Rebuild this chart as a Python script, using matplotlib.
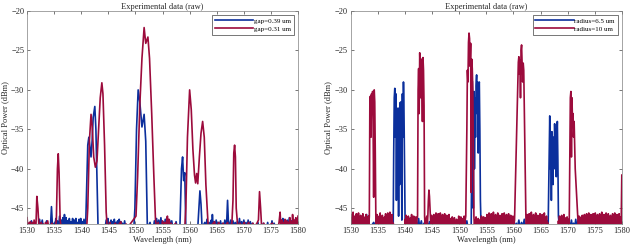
import matplotlib
matplotlib.use("Agg")
import matplotlib.pyplot as plt

# ---- left panel: gap sweep (wavelength nm, power dBm) ----
gap039 = [
    (1530.0, -46.8), (1530.2, -47.5), (1530.4, -46.9), (1530.6, -47.5), (1530.8, -46.6),
    (1531.0, -47.5), (1532.0, -47.5), (1532.3, -46.4), (1532.5, -47.5), (1532.8, -46.5),
    (1533.0, -47.5), (1533.4, -47.5), (1533.6, -46.6), (1533.8, -47.5), (1534.3, -47.5),
    (1534.5, -44.8), (1534.7, -47.5), (1535.0, -46.9), (1535.15, -47.5), (1535.3, -46.3),
    (1535.45, -47.5), (1535.6, -46.6), (1535.8, -47.5), (1536.0, -46.0), (1536.15, -47.5),
    (1536.3, -46.5), (1536.45, -47.5), (1536.6, -46.2), (1536.75, -47.5), (1536.9, -45.8),
    (1537.05, -47.5), (1537.2, -46.2), (1537.35, -47.5), (1537.5, -46.6), (1537.65, -47.5),
    (1537.8, -46.3), (1537.95, -47.5), (1538.1, -46.7), (1538.25, -47.5), (1538.4, -46.3),
    (1538.55, -47.5), (1538.7, -46.5), (1538.85, -47.5), (1539.0, -46.3), (1539.15, -47.5),
    (1539.3, -46.8), (1539.45, -47.5), (1539.6, -46.4), (1539.75, -47.5), (1539.9, -46.3),
    (1540.05, -47.5), (1540.2, -46.7), (1540.35, -47.5), (1540.5, -46.4), (1540.8, -47.5),
    (1541.0, -42.0), (1541.2, -37.0), (1541.4, -36.0), (1541.6, -37.2), (1541.8, -38.5),
    (1542.0, -36.5), (1542.2, -33.5), (1542.5, -32.1), (1542.7, -35.0), (1542.9, -41.0),
    (1543.1, -47.5), (1544.4, -47.5), (1544.6, -46.5), (1544.75, -47.5), (1544.9, -46.3),
    (1545.05, -47.5), (1545.2, -46.8), (1545.35, -47.5), (1545.5, -46.5), (1545.65, -47.5),
    (1545.8, -46.7), (1545.95, -47.5), (1546.1, -46.4), (1546.25, -47.5), (1546.4, -46.8),
    (1546.55, -47.5), (1546.7, -46.6), (1546.85, -47.5), (1547.0, -46.4), (1547.15, -47.5),
    (1547.3, -46.7), (1547.45, -47.5), (1547.6, -46.9), (1547.8, -47.5), (1548.0, -46.6),
    (1548.2, -47.5), (1549.7, -47.5), (1549.9, -45.0), (1550.2, -35.0), (1550.5, -30.0),
    (1550.8, -31.5), (1551.2, -34.7), (1551.6, -33.1), (1551.9, -36.5), (1552.2, -47.5),
    (1552.7, -46.8), (1552.9, -47.5), (1553.3, -47.5), (1553.5, -46.6), (1553.7, -47.5),
    (1553.9, -46.3), (1554.1, -47.5), (1554.3, -46.5), (1554.5, -47.5), (1554.7, -46.2),
    (1554.9, -47.5), (1555.1, -46.7), (1555.3, -47.5), (1555.5, -46.4), (1555.7, -47.5),
    (1555.9, -46.6), (1556.1, -47.5), (1556.3, -46.5), (1556.5, -47.5), (1556.7, -46.6),
    (1556.9, -47.5), (1557.3, -47.5), (1557.5, -46.7), (1557.7, -47.5), (1558.2, -47.5),
    (1558.5, -40.0), (1558.7, -38.5), (1558.9, -41.5), (1559.1, -40.5), (1559.3, -47.5),
    (1561.5, -47.5), (1561.8, -44.0), (1561.9, -42.8), (1562.1, -44.5), (1562.3, -47.5),
    (1562.8, -46.8), (1563.0, -47.5), (1563.2, -46.4), (1563.4, -47.5), (1563.6, -46.8),
    (1563.8, -47.5), (1564.0, -46.5), (1564.1, -47.5), (1564.2, -45.8), (1564.35, -47.5),
    (1564.5, -46.7), (1564.7, -47.5), (1564.9, -46.5), (1565.1, -47.5), (1565.3, -46.8),
    (1565.5, -47.5), (1565.7, -46.6), (1565.9, -47.5), (1566.1, -46.9), (1566.3, -47.5),
    (1566.5, -46.5), (1566.8, -47.5), (1567.0, -44.0), (1567.2, -47.5), (1567.6, -46.5),
    (1567.8, -47.5), (1568.0, -46.6), (1568.2, -47.5), (1568.4, -46.8), (1568.6, -47.5),
    (1568.8, -46.7), (1569.0, -47.5), (1569.2, -46.3), (1569.4, -47.5), (1569.6, -46.7),
    (1569.8, -47.5), (1570.0, -46.5), (1570.2, -47.5), (1570.4, -46.8), (1570.6, -47.5),
    (1570.8, -46.5), (1571.0, -47.5), (1571.2, -46.7), (1571.4, -47.5), (1571.6, -46.9),
    (1571.8, -47.5), (1572.4, -47.5), (1572.6, -46.8), (1572.8, -47.5), (1573.4, -47.5),
    (1573.6, -46.9), (1573.8, -47.5), (1574.2, -47.5), (1574.4, -46.8), (1574.6, -47.5),
    (1575.0, -47.5), (1575.2, -46.6), (1575.4, -47.5), (1575.6, -46.9), (1575.8, -47.5),
    (1576.8, -47.5), (1577.0, -46.6), (1577.1, -47.5), (1577.2, -46.3), (1577.4, -47.5),
    (1577.6, -46.7), (1577.8, -47.5), (1578.0, -46.5), (1578.2, -47.5), (1578.4, -46.2),
    (1578.6, -47.5), (1578.8, -46.6), (1579.0, -47.5), (1579.2, -46.4), (1579.4, -47.5),
    (1579.6, -46.7), (1579.8, -47.5), (1580.0, -46.8),
]

gap031 = [
    (1530.0, -46.2), (1530.15, -47.5), (1530.3, -46.9), (1530.45, -47.5), (1530.6, -46.7),
    (1530.75, -47.5), (1531.0, -46.8), (1531.15, -47.5), (1531.3, -46.5), (1531.5, -47.5),
    (1531.65, -46.9), (1531.8, -43.5), (1532.0, -45.0), (1532.2, -47.5), (1532.6, -46.8),
    (1532.8, -47.5), (1533.0, -47.0), (1533.2, -47.5), (1533.4, -46.8), (1533.6, -47.5),
    (1533.8, -46.6), (1534.0, -47.5), (1534.6, -46.9), (1534.8, -47.5), (1535.2, -47.5),
    (1535.4, -46.5), (1535.6, -40.0), (1535.75, -38.1), (1535.9, -40.5), (1536.1, -46.5),
    (1536.3, -47.5), (1541.0, -47.5), (1541.2, -45.0), (1541.5, -36.5), (1541.8, -33.1),
    (1542.0, -34.5), (1542.3, -38.5), (1542.6, -39.8), (1542.9, -39.0), (1543.2, -35.0),
    (1543.5, -31.0), (1543.8, -29.1), (1544.0, -30.5), (1544.3, -37.0), (1544.6, -45.5),
    (1544.8, -47.5), (1545.3, -46.8), (1545.5, -47.5), (1546.3, -46.9), (1546.5, -47.5),
    (1547.3, -46.7), (1547.5, -47.5), (1548.3, -47.0), (1548.5, -47.5), (1550.1, -46.0),
    (1550.4, -41.0), (1550.8, -32.0), (1551.2, -26.0), (1551.6, -22.1), (1551.9, -24.1),
    (1552.3, -23.3), (1552.6, -26.0), (1553.0, -33.0), (1553.4, -41.0), (1553.7, -46.5),
    (1553.9, -47.5), (1554.2, -46.8), (1554.4, -47.5), (1554.8, -47.5), (1555.0, -46.6),
    (1555.2, -47.5), (1555.4, -46.8), (1555.6, -47.5), (1555.8, -46.3), (1555.9, -46.0),
    (1556.1, -47.5), (1556.2, -46.4), (1556.4, -47.5), (1556.6, -46.9), (1556.8, -47.5),
    (1557.4, -46.9), (1557.6, -47.5), (1559.1, -47.5), (1559.3, -45.0), (1559.6, -36.0),
    (1560.0, -30.0), (1560.3, -32.5), (1560.6, -37.5), (1560.9, -40.8), (1561.1, -41.8),
    (1561.3, -40.6), (1561.5, -41.9), (1561.8, -38.5), (1562.1, -35.5), (1562.4, -34.0),
    (1562.7, -36.0), (1563.0, -42.0), (1563.4, -47.0), (1563.6, -47.5), (1564.6, -46.7),
    (1564.8, -47.5), (1565.4, -46.8), (1565.6, -47.5), (1566.2, -46.9), (1566.4, -47.5),
    (1567.0, -46.8), (1567.2, -47.5), (1567.8, -46.9), (1568.0, -44.0), (1568.15, -38.0),
    (1568.3, -37.0), (1568.45, -38.5), (1568.6, -45.0), (1568.9, -47.5), (1569.3, -46.9),
    (1569.5, -47.5), (1570.1, -46.8), (1570.3, -47.5), (1570.9, -46.8), (1571.1, -47.5),
    (1571.7, -46.9), (1571.9, -47.5), (1572.5, -46.8), (1572.7, -46.5), (1572.9, -42.9),
    (1573.1, -45.0), (1573.3, -47.5), (1573.7, -46.9), (1573.9, -47.5), (1575.3, -46.9),
    (1575.5, -47.5), (1576.3, -47.5), (1576.5, -46.8), (1576.7, -45.5), (1576.85, -47.5),
    (1577.0, -46.5), (1577.15, -47.5), (1577.3, -46.8), (1577.45, -47.5), (1577.6, -46.4),
    (1577.75, -47.5), (1577.9, -46.6), (1578.05, -47.5), (1578.2, -46.8), (1578.35, -47.5),
    (1578.5, -46.2), (1578.65, -47.5), (1578.8, -46.7), (1578.9, -47.5), (1579.0, -45.8),
    (1579.15, -47.5), (1579.3, -46.5), (1579.45, -47.5), (1579.6, -46.2), (1579.75, -47.5),
    (1580.0, -46.0),
]

# ---- right panel: radius sweep ----
radius65 = [
    (1530.0, -46.3), (1530.2, -47.5), (1530.5, -46.8), (1530.7, -47.5), (1531.0, -46.5),
    (1531.2, -47.5), (1531.5, -46.9), (1531.7, -47.5), (1532.0, -46.4), (1532.2, -47.5),
    (1532.5, -46.7), (1532.7, -47.5), (1532.9, -45.8), (1533.1, -47.5), (1533.3, -46.6),
    (1533.5, -47.5), (1534.2, -46.8), (1534.4, -47.5), (1534.7, -46.3), (1534.9, -47.5),
    (1535.2, -46.6), (1535.4, -47.5), (1535.6, -46.2), (1535.8, -47.5), (1536.0, -46.7),
    (1536.2, -47.5), (1536.5, -46.4), (1536.7, -47.5), (1537.0, -46.5), (1537.2, -47.5),
    (1537.4, -46.2), (1537.8, -47.5), (1537.9, -38.0), (1538.0, -31.0), (1538.1, -29.8),
    (1538.2, -36.0), (1538.3, -30.5), (1538.4, -44.0), (1538.5, -33.5), (1538.6, -40.0),
    (1538.7, -32.3), (1538.8, -46.0), (1538.9, -34.0), (1539.0, -42.0), (1539.1, -31.6),
    (1539.2, -38.0), (1539.3, -31.5), (1539.4, -46.5), (1539.5, -30.5), (1539.6, -36.0),
    (1539.7, -29.0), (1539.8, -33.0), (1539.9, -40.0), (1540.0, -46.5), (1540.2, -47.5),
    (1540.4, -46.9), (1540.6, -47.5), (1540.8, -46.3), (1541.0, -47.5), (1541.2, -46.7),
    (1541.4, -47.5), (1541.6, -46.4), (1541.8, -47.5), (1542.0, -46.8), (1542.2, -47.5),
    (1542.5, -46.3), (1542.7, -47.5), (1543.0, -46.6), (1543.2, -47.5), (1543.5, -46.9),
    (1543.7, -47.5), (1544.0, -46.4), (1544.2, -47.5), (1544.5, -46.7), (1544.7, -47.5),
    (1545.0, -46.3), (1545.2, -47.5), (1545.5, -46.8), (1545.7, -47.5), (1546.0, -46.5),
    (1546.2, -47.5), (1546.5, -46.2), (1546.7, -47.5), (1547.0, -46.6), (1547.2, -47.5),
    (1547.4, -46.4), (1547.6, -47.5), (1547.8, -46.9), (1548.0, -47.5), (1548.2, -46.5),
    (1548.4, -47.5), (1548.6, -46.8), (1548.8, -47.5), (1549.0, -46.3), (1549.2, -47.5),
    (1549.4, -46.7), (1549.6, -47.5), (1549.8, -47.0), (1550.0, -47.5), (1550.2, -46.8),
    (1550.4, -47.5), (1550.6, -46.4), (1550.8, -47.5), (1551.0, -46.9), (1551.2, -47.5),
    (1551.4, -46.6), (1551.6, -47.5), (1552.2, -47.5), (1552.3, -38.0), (1552.4, -28.9),
    (1552.5, -34.0), (1552.6, -45.0), (1552.7, -30.2), (1552.8, -40.0), (1552.9, -31.0),
    (1553.0, -36.0), (1553.1, -29.5), (1553.2, -28.1), (1553.3, -33.0), (1553.4, -29.0),
    (1553.5, -38.0), (1553.6, -29.5), (1553.7, -29.0), (1553.8, -35.0), (1553.9, -44.0),
    (1554.0, -46.8), (1554.2, -47.5), (1554.4, -46.3), (1554.6, -47.5), (1554.8, -46.9),
    (1555.0, -47.5), (1555.2, -46.5), (1555.4, -47.5), (1555.6, -46.7), (1555.8, -47.5),
    (1556.0, -46.4), (1556.2, -47.5), (1556.5, -46.8), (1556.7, -47.5), (1557.0, -46.3),
    (1557.2, -47.5), (1557.5, -46.6), (1557.7, -47.5), (1558.0, -46.9), (1558.2, -47.5),
    (1558.5, -46.4), (1558.7, -47.5), (1559.0, -46.7), (1559.2, -47.5), (1559.5, -46.3),
    (1559.7, -47.5), (1560.0, -46.6), (1560.2, -47.5), (1560.5, -46.9), (1560.7, -47.5),
    (1561.0, -46.5), (1561.2, -47.5), (1561.5, -46.8), (1561.7, -47.5), (1562.0, -46.4),
    (1562.2, -47.5), (1562.5, -46.7), (1562.7, -47.5), (1563.0, -46.3), (1563.2, -47.5),
    (1563.4, -46.8), (1563.6, -47.5), (1563.8, -46.5), (1564.0, -47.5), (1564.2, -46.9),
    (1564.4, -47.5), (1564.6, -46.4), (1564.8, -47.5), (1565.0, -46.7), (1565.2, -47.5),
    (1565.4, -46.5), (1565.6, -47.5), (1565.8, -46.9), (1566.0, -47.5), (1566.2, -46.6),
    (1566.4, -47.5), (1566.6, -38.0), (1566.7, -33.3), (1566.8, -40.0), (1566.9, -36.0),
    (1567.0, -44.0), (1567.1, -35.3), (1567.2, -38.0), (1567.3, -42.0), (1567.4, -36.0),
    (1567.5, -40.0), (1567.6, -34.3), (1567.7, -37.0), (1567.8, -35.0), (1567.9, -41.0),
    (1568.0, -36.0), (1568.1, -34.0), (1568.2, -39.0), (1568.3, -46.0), (1568.5, -47.5),
    (1568.7, -46.8), (1568.9, -47.5), (1569.1, -46.4), (1569.3, -47.5), (1569.5, -46.7),
    (1569.7, -47.5), (1569.9, -46.3), (1570.1, -47.5), (1570.3, -46.8), (1570.5, -47.5),
    (1570.7, -46.5), (1570.9, -47.5), (1571.1, -46.9), (1571.3, -47.5), (1571.5, -46.4),
    (1571.7, -47.5), (1571.9, -46.6), (1572.1, -47.5), (1572.3, -46.9), (1572.5, -47.5),
    (1572.8, -46.5), (1573.0, -47.5), (1573.3, -46.8), (1573.5, -47.5), (1573.8, -46.4),
    (1574.0, -47.5), (1574.3, -46.7), (1574.5, -47.5), (1574.8, -46.5), (1575.0, -47.5),
    (1575.3, -46.9), (1575.5, -47.5), (1575.8, -46.6), (1576.0, -47.5), (1576.3, -46.8),
    (1576.5, -47.5), (1576.8, -46.4), (1577.0, -47.5), (1577.3, -46.7), (1577.5, -47.5),
    (1577.8, -46.5), (1578.0, -47.5), (1578.3, -46.9), (1578.5, -47.5), (1578.8, -46.6),
    (1579.0, -47.5), (1579.3, -46.8), (1579.5, -47.5), (1579.7, -46.5), (1580.0, -46.7),
]

radius10 = [
    (1530.0, -45.8), (1530.1, -47.3), (1530.2, -46.3), (1530.3, -47.4), (1530.4, -45.5),
    (1530.5, -47.2), (1530.6, -46.0), (1530.7, -47.4), (1530.8, -46.6), (1530.9, -47.3),
    (1531.0, -45.7), (1531.1, -47.4), (1531.2, -46.2), (1531.3, -47.2), (1531.4, -45.6),
    (1531.5, -47.4), (1531.6, -46.5), (1531.7, -47.3), (1531.8, -45.9), (1531.9, -47.4),
    (1532.0, -46.4), (1532.1, -47.2), (1532.2, -45.7), (1532.3, -47.4), (1532.4, -46.1),
    (1532.5, -47.3), (1532.6, -46.7), (1532.7, -47.4), (1532.8, -45.8), (1532.9, -47.2),
    (1533.0, -46.3), (1533.1, -47.4), (1533.2, -46.0), (1533.3, -47.3), (1533.4, -46.0),
    (1533.5, -31.0), (1533.6, -30.8), (1533.7, -36.0), (1533.8, -30.5), (1533.9, -32.0),
    (1534.0, -30.2), (1534.1, -35.0), (1534.2, -43.6), (1534.3, -30.0), (1534.4, -31.5),
    (1534.5, -38.0), (1534.6, -46.0), (1534.7, -47.3), (1534.8, -45.8), (1534.9, -47.4),
    (1535.0, -46.5), (1535.1, -47.2), (1535.2, -46.0), (1535.3, -47.4), (1535.4, -45.6),
    (1535.5, -47.3), (1535.6, -46.3), (1535.7, -47.4), (1535.8, -45.9), (1535.9, -47.2),
    (1536.0, -46.6), (1536.1, -47.4), (1536.2, -46.1), (1536.3, -47.3), (1536.4, -45.7),
    (1536.5, -47.4), (1536.6, -46.2), (1536.7, -47.2), (1536.8, -45.6), (1536.9, -47.4),
    (1537.0, -46.0), (1537.1, -47.3), (1537.2, -45.5), (1537.3, -47.4), (1537.4, -46.3),
    (1537.5, -47.2), (1537.6, -45.8), (1537.7, -47.4), (1537.8, -46.9), (1538.1, -47.5),
    (1539.9, -47.5), (1540.0, -46.4), (1540.1, -47.3), (1540.2, -45.9), (1540.3, -47.4),
    (1540.4, -46.5), (1540.5, -47.2), (1540.6, -46.0), (1540.7, -47.4), (1540.8, -46.7),
    (1540.9, -47.3), (1541.0, -46.2), (1541.1, -47.4), (1541.2, -45.8), (1541.3, -47.2),
    (1541.4, -46.4), (1541.5, -47.4), (1541.6, -46.0), (1541.7, -47.3), (1541.8, -46.6),
    (1541.9, -47.4), (1542.0, -46.1), (1542.1, -47.2), (1542.2, -46.4), (1542.3, -46.0),
    (1542.4, -30.0), (1542.5, -27.3), (1542.6, -33.0), (1542.7, -25.3), (1542.8, -28.0),
    (1542.9, -31.0), (1543.0, -26.1), (1543.1, -29.0), (1543.2, -34.0), (1543.3, -25.9),
    (1543.4, -27.5), (1543.5, -32.0), (1543.6, -46.0), (1543.7, -47.4), (1543.8, -46.3),
    (1543.9, -47.2), (1544.0, -46.0), (1544.1, -47.3), (1544.2, -46.0), (1544.3, -44.0),
    (1544.4, -42.7), (1544.5, -43.5), (1544.7, -46.5), (1544.8, -47.4), (1544.9, -45.9),
    (1545.0, -47.2), (1545.1, -46.4), (1545.2, -47.4), (1545.3, -45.8), (1545.4, -47.3),
    (1545.5, -46.2), (1545.6, -47.4), (1545.7, -45.6), (1545.8, -47.2), (1545.9, -46.1),
    (1546.0, -47.4), (1546.1, -45.7), (1546.2, -47.3), (1546.3, -46.3), (1546.4, -47.4),
    (1546.5, -45.6), (1546.6, -47.2), (1546.7, -46.0), (1546.8, -47.4), (1546.9, -45.8),
    (1547.0, -47.3), (1547.1, -46.4), (1547.2, -47.4), (1547.3, -45.7), (1547.4, -47.2),
    (1547.5, -46.2), (1547.6, -47.4), (1547.7, -45.9), (1547.8, -47.3), (1547.9, -46.5),
    (1548.0, -47.4), (1548.1, -45.8), (1548.2, -47.2), (1548.3, -46.3), (1548.4, -47.4),
    (1548.5, -46.8), (1548.6, -47.3), (1548.7, -46.1), (1548.8, -47.4), (1548.9, -46.6),
    (1549.0, -47.2), (1549.1, -46.2), (1549.2, -47.4), (1549.3, -46.9), (1549.4, -47.3),
    (1549.5, -46.4), (1549.6, -47.4), (1549.7, -46.7), (1549.8, -47.2), (1549.9, -46.0),
    (1550.0, -47.4), (1550.1, -46.5), (1550.2, -47.3), (1550.3, -46.1), (1550.4, -47.4),
    (1550.5, -46.7), (1550.6, -47.2), (1550.7, -46.3), (1550.8, -47.4), (1550.9, -46.0),
    (1551.0, -47.3), (1551.1, -46.5), (1551.2, -46.0), (1551.4, -35.0), (1551.5, -27.5),
    (1551.6, -29.0), (1551.7, -24.0), (1551.8, -22.8), (1551.9, -23.5), (1552.0, -27.0),
    (1552.1, -24.1), (1552.2, -43.0), (1552.3, -26.1), (1552.4, -27.3), (1552.5, -30.0),
    (1552.6, -38.0), (1552.7, -46.0), (1552.8, -47.4), (1552.9, -46.5), (1553.0, -47.3),
    (1553.1, -46.1), (1553.2, -47.4), (1553.3, -46.8), (1553.4, -47.2), (1553.5, -46.3),
    (1553.6, -47.4), (1553.7, -46.9), (1553.8, -47.3), (1553.9, -46.4), (1554.0, -47.4),
    (1554.1, -46.0), (1554.2, -47.2), (1554.3, -46.5), (1554.4, -47.4), (1554.5, -46.1),
    (1554.6, -47.3), (1554.7, -46.6), (1554.8, -47.4), (1554.9, -46.2), (1555.0, -47.2),
    (1555.1, -45.8), (1555.2, -47.4), (1555.3, -46.3), (1555.4, -47.3), (1555.5, -45.6),
    (1555.6, -47.4), (1555.7, -46.1), (1555.8, -47.2), (1555.9, -45.7), (1556.0, -47.4),
    (1556.1, -46.2), (1556.2, -47.3), (1556.3, -45.5), (1556.4, -47.4), (1556.5, -46.0),
    (1556.6, -47.2), (1556.7, -45.8), (1556.8, -47.4), (1556.9, -46.4), (1557.0, -47.3),
    (1557.1, -45.6), (1557.2, -47.4), (1557.3, -46.1), (1557.4, -47.2), (1557.5, -45.9),
    (1557.6, -47.4), (1557.7, -46.5), (1557.8, -47.3), (1557.9, -45.7), (1558.0, -47.4),
    (1558.1, -46.2), (1558.2, -47.2), (1558.3, -45.6), (1558.4, -47.4), (1558.5, -46.0),
    (1558.6, -47.3), (1558.7, -45.8), (1558.8, -47.4), (1558.9, -46.3), (1559.0, -47.2),
    (1559.1, -45.7), (1559.2, -47.4), (1559.3, -46.1), (1559.4, -47.3), (1559.5, -45.9),
    (1559.6, -47.4), (1559.7, -46.4), (1559.8, -47.2), (1559.9, -46.0), (1560.0, -47.4),
    (1560.2, -46.5), (1560.9, -26.5), (1561.0, -25.8), (1561.1, -28.0), (1561.2, -26.2),
    (1561.3, -31.0), (1561.4, -25.0), (1561.5, -24.3), (1561.6, -26.8), (1561.7, -29.0),
    (1561.8, -26.6), (1561.9, -27.5), (1562.3, -46.2), (1562.4, -47.3), (1562.5, -45.8),
    (1562.6, -47.4), (1562.7, -46.3), (1562.8, -47.2), (1562.9, -45.7), (1563.0, -47.4),
    (1563.1, -46.1), (1563.2, -47.3), (1563.3, -45.5), (1563.4, -47.4), (1563.5, -46.0),
    (1563.6, -47.2), (1563.7, -45.8), (1563.8, -47.4), (1563.9, -46.4), (1564.0, -47.3),
    (1564.1, -45.6), (1564.2, -47.4), (1564.3, -46.2), (1564.4, -47.2), (1564.5, -45.9),
    (1564.6, -47.4), (1564.7, -46.5), (1564.8, -47.3), (1564.9, -45.7), (1565.0, -47.4),
    (1565.1, -46.3), (1565.2, -47.2), (1565.3, -45.8), (1565.4, -47.4), (1565.5, -46.0),
    (1565.6, -47.3), (1565.7, -45.6), (1565.8, -47.4), (1565.9, -46.4), (1566.0, -47.2),
    (1566.1, -46.0), (1566.2, -47.4), (1566.3, -46.8), (1566.5, -47.5), (1568.2, -47.5),
    (1568.3, -46.6), (1568.4, -47.3), (1568.5, -46.0), (1568.6, -47.4), (1568.7, -46.5),
    (1568.8, -47.2), (1568.9, -45.9), (1569.0, -47.4), (1569.1, -46.3), (1569.2, -47.3),
    (1569.3, -45.8), (1569.4, -47.4), (1569.5, -46.2), (1569.6, -47.2), (1569.7, -46.6),
    (1569.8, -47.4), (1569.9, -46.1), (1570.0, -47.3), (1570.1, -46.4), (1570.2, -47.4),
    (1570.3, -46.5), (1570.5, -31.0), (1570.6, -30.2), (1570.7, -38.5), (1570.8, -31.0),
    (1570.9, -34.0), (1571.0, -33.0), (1571.1, -36.0), (1571.2, -34.0), (1571.4, -40.0),
    (1571.9, -46.5), (1572.0, -47.4), (1572.1, -46.0), (1572.2, -47.2), (1572.3, -46.6),
    (1572.4, -47.4), (1572.5, -46.1), (1572.6, -47.3), (1572.7, -45.9), (1572.8, -47.4),
    (1572.9, -46.4), (1573.0, -47.2), (1573.1, -45.8), (1573.2, -47.4), (1573.3, -46.2),
    (1573.4, -47.3), (1573.5, -45.7), (1573.6, -47.4), (1573.7, -46.1), (1573.8, -47.2),
    (1573.9, -45.6), (1574.0, -47.4), (1574.1, -46.0), (1574.2, -47.3), (1574.3, -45.8),
    (1574.4, -47.4), (1574.5, -46.3), (1574.6, -47.2), (1574.7, -45.7), (1574.8, -47.4),
    (1574.9, -46.1), (1575.0, -47.3), (1575.1, -45.6), (1575.2, -47.4), (1575.3, -46.2),
    (1575.4, -47.2), (1575.5, -45.8), (1575.6, -47.4), (1575.7, -46.4), (1575.8, -47.3),
    (1575.9, -45.7), (1576.0, -47.4), (1576.1, -46.0), (1576.2, -47.2), (1576.3, -45.5),
    (1576.4, -47.4), (1576.5, -46.1), (1576.6, -47.3), (1576.7, -45.8), (1576.8, -47.4),
    (1576.9, -46.3), (1577.0, -47.2), (1577.1, -45.6), (1577.2, -47.4), (1577.3, -46.0),
    (1577.4, -47.3), (1577.5, -45.7), (1577.6, -47.4), (1577.7, -46.2), (1577.8, -47.2),
    (1577.9, -45.9), (1578.0, -47.4), (1578.1, -46.4), (1578.2, -47.3), (1578.3, -45.7),
    (1578.4, -47.4), (1578.5, -46.1), (1578.6, -47.2), (1578.7, -45.6), (1578.8, -47.4),
    (1578.9, -46.0), (1579.0, -47.3), (1579.1, -45.8), (1579.2, -47.4), (1579.3, -46.3),
    (1579.4, -47.2), (1579.5, -45.7), (1579.6, -47.4), (1579.7, -46.1), (1579.8, -47.3),
    (1579.9, -46.0), (1580.0, -40.8),
]

blue = '#0b2f9c'
red = '#9c0b3c'

plt.rcParams['font.family'] = ['Liberation Serif', 'DejaVu Serif']

fig = plt.figure(figsize=(6.3, 2.5), dpi=100)
ax1 = fig.add_axes([0.043, 0.104, 0.430, 0.852])
ax2 = fig.add_axes([0.557, 0.104, 0.430, 0.852])


def draw(ax, s1, s2, lab1, lab2):
    x1, y1 = zip(*s1)
    x2, y2 = zip(*s2)
    ax.plot(x1, y1, color=blue, lw=1.2, label=lab1)
    ax.plot(x2, y2, color=red, lw=1.2, label=lab2)
    ax.set_xlim(1530, 1580)
    ax.set_ylim(-47, -20)
    ax.set_xticks(range(1530, 1581, 5))
    ax.set_yticks(range(-45, -19, 5))
    ax.tick_params(direction='in', top=True, right=True, labelsize=6,
                   length=2.5, width=0.5, colors='#404040', labelcolor='#262626', pad=2)
    for sp in ax.spines.values():
        sp.set_linewidth(0.5)
        sp.set_color('#808080')
    ax.set_xlabel('Wavelength (nm)', fontsize=6, labelpad=1, color='#262626')
    ax.set_ylabel('Optical Power (dBm)', fontsize=6, labelpad=1, color='#262626')
    ax.set_title('Experimental data (raw)', fontsize=6, pad=1.5, color='#262626')
    leg = ax.legend(loc='upper right', fontsize=5, handlelength=5.5, handletextpad=0.1,
                    borderpad=0.4, labelspacing=0.3, fancybox=False, framealpha=1,
                    borderaxespad=0.6)
    leg.get_frame().set_linewidth(0.5)
    leg.get_frame().set_edgecolor('#404040')


draw(ax1, gap039, gap031, 'gap=0.39 um', 'gap=0.31 um')
draw(ax2, radius65, radius10, 'radius=6.5 um', 'radius=10 um')

fig.savefig('out.png', dpi=100)
